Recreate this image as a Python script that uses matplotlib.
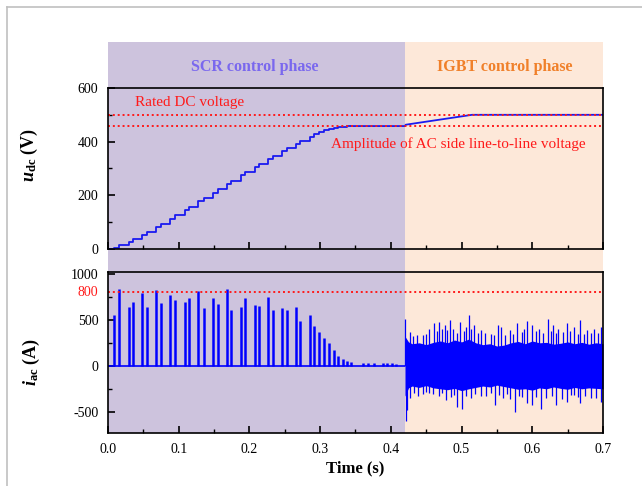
import matplotlib
matplotlib.use('Agg')
import matplotlib.pyplot as plt
import matplotlib.transforms as mtransforms
from matplotlib.patches import Rectangle
from matplotlib.lines import Line2D
from matplotlib.ticker import MultipleLocator

plt.rcParams['font.family'] = ['Liberation Serif', 'DejaVu Serif']
plt.rcParams['mathtext.fontset'] = 'custom'
plt.rcParams['mathtext.it'] = 'Liberation Serif:bold:italic'
plt.rcParams['mathtext.rm'] = 'Liberation Serif:bold'
plt.rcParams['mathtext.bf'] = 'Liberation Serif:bold'
plt.rcParams['axes.unicode_minus'] = False

# phases
t_switch = 0.42
t_end = 0.70
phase_names = ['SCR control phase', 'IGBT control phase']
phase_label_t = [0.208, 0.561]

# reference levels
rated_dc = 500
ac_amplitude = 460
current_limit = 800

# u_dc: staircase during SCR charging (time of each step, level after it)
step_t = [0.0, 0.0088, 0.0156, 0.0293, 0.0356, 0.0488, 0.0551, 0.0683, 0.0746,
          0.0878, 0.0951, 0.1083, 0.1146, 0.1278, 0.1351, 0.1488, 0.1551,
          0.1683, 0.1746, 0.1878, 0.1941, 0.2073, 0.2137, 0.2268, 0.2332,
          0.2463, 0.2527, 0.2659, 0.2722, 0.2854, 0.2917, 0.299, 0.3059,
          0.312, 0.319, 0.325, 0.332, 0.3376, 0.344]
step_v = [0, 5, 14, 26, 37, 52, 64, 82, 94,
          113, 125, 145, 157, 177, 189, 210, 222,
          242, 254, 274, 286, 305, 317, 336, 347,
          365, 376, 393, 403, 418, 427, 436, 442,
          447, 451, 454, 456, 457, 458]
# u_dc after charging: plateau, then IGBT ramp up to rated voltage
tail_t = [0.344, 0.42, 0.421, 0.515, 0.70]
tail_v = [458, 458, 463, 500, 500]

# i_ac: charging current pulses during SCR phase
pulse_t = [0.0088, 0.0156, 0.0293, 0.0356, 0.0488, 0.0551, 0.0683, 0.0746,
           0.0878, 0.0951, 0.1083, 0.1146, 0.1278, 0.1351, 0.1488, 0.1551,
           0.1683, 0.1746, 0.1878, 0.1941, 0.2073, 0.2137, 0.2268, 0.2332,
           0.2463, 0.2527, 0.2659, 0.2722, 0.2854, 0.2917, 0.299, 0.3059,
           0.312, 0.319, 0.325, 0.332, 0.3376, 0.344, 0.361, 0.368, 0.3756,
           0.389, 0.395, 0.401, 0.407]
pulse_peak = [555, 838, 638, 698, 789, 638, 826, 687,
              770, 713, 698, 736, 811, 630, 736, 668,
              838, 604, 638, 732, 660, 649, 751, 604,
              630, 604, 638, 491, 547, 434, 366, 298,
              253, 177, 109, 72, 57, 42, 26, 34, 34,
              26, 26, 26, 19]

# i_ac during IGBT phase: envelope of the dense ripple band
band_t = [0.42, 0.425, 0.43, 0.44, 0.45, 0.46, 0.47, 0.48, 0.49, 0.50, 0.51, 0.52,
          0.53, 0.54, 0.55, 0.56, 0.57, 0.58, 0.59, 0.60, 0.61, 0.62, 0.63, 0.64,
          0.65, 0.66, 0.67, 0.68, 0.69, 0.70]
band_hi = [320, 260, 240, 250, 230, 255, 270, 250, 280, 260, 290, 250,
           230, 240, 215, 225, 250, 265, 240, 270, 250, 255, 235, 245,
           260, 240, 255, 235, 250, 240]
band_lo = [-330, -240, -220, -235, -215, -240, -250, -260, -245, -270, -250, -235,
           -220, -230, -210, -225, -240, -255, -250, -265, -240, -250, -230, -245,
           -255, -235, -250, -240, -245, -250]
# i_ac: individual ripple spikes sticking out of the band
spike_up_t = [0.420, 0.427, 0.432, 0.437, 0.445, 0.450, 0.454, 0.461, 0.465, 0.468,
              0.472, 0.476, 0.480, 0.483, 0.488, 0.493, 0.498, 0.503, 0.507, 0.510,
              0.514, 0.518, 0.523, 0.527, 0.533, 0.541, 0.546, 0.551, 0.556, 0.562,
              0.568, 0.573, 0.578, 0.585, 0.589, 0.593, 0.600, 0.605, 0.610, 0.615,
              0.622, 0.626, 0.629, 0.633, 0.637, 0.643, 0.649, 0.654, 0.659, 0.664,
              0.668, 0.673, 0.678, 0.683, 0.688, 0.693, 0.697]
spike_up_v = [505, 366, 320, 330, 340, 350, 404, 460, 380, 479,
              400, 441, 390, 498, 400, 360, 479, 380, 420, 547,
              400, 441, 360, 385, 360, 350, 330, 441, 420, 340,
              385, 350, 460, 370, 400, 487, 441, 380, 404, 360,
              505, 380, 441, 360, 404, 370, 460, 380, 420, 350,
              498, 350, 385, 360, 404, 360, 420]
spike_dn_t = [0.421, 0.423, 0.427, 0.433, 0.439, 0.445, 0.450, 0.454, 0.460, 0.468,
              0.473, 0.478, 0.485, 0.489, 0.493, 0.500, 0.506, 0.513, 0.519, 0.527,
              0.535, 0.541, 0.547, 0.553, 0.559, 0.564, 0.568, 0.576, 0.581, 0.585,
              0.593, 0.600, 0.606, 0.612, 0.620, 0.628, 0.634, 0.642, 0.649, 0.655,
              0.659, 0.664, 0.668, 0.675, 0.683, 0.690, 0.697]
spike_dn_v = [-596, -483, -351, -300, -332, -310, -290, -294, -310, -332,
              -300, -370, -340, -320, -445, -464, -330, -351, -310, -332,
              -330, -300, -430, -320, -351, -310, -360, -502, -330, -340,
              -408, -430, -340, -464, -351, -330, -430, -360, -389, -320,
              -320, -340, -408, -330, -351, -350, -389]

# colours
scr_bg = '#cdc3dd'
igbt_bg = '#fde8d9'
line_blue = '#1a1af0'
red = '#ff1a1a'

fig = plt.figure(figsize=(6.42, 4.86), dpi=100)
ax1 = fig.add_axes([0.1682, 0.4877, 0.7710, 0.3313])
ax2 = fig.add_axes([0.1682, 0.1091, 0.7710, 0.3313], sharex=ax1)

# shaded phase backgrounds behind both panels
blend = mtransforms.blended_transform_factory(ax2.transData, fig.transFigure)
bg_bottom, bg_top = 0.1091, 0.9136
for (x0, x1), c in zip([(0, t_switch), (t_switch, t_end)], [scr_bg, igbt_bg]):
    fig.add_artist(Rectangle((x0, bg_bottom), x1 - x0, bg_top - bg_bottom,
                             transform=blend, facecolor=c, edgecolor='none', zorder=-5))
for name, tx, c in zip(phase_names, phase_label_t, ['#7a68ee', '#f0802a']):
    fig.text(tx, 0.862, name, transform=blend, ha='center', va='center',
             fontsize=11.5, fontweight='bold', color=c)

# frame lines of the original figure
fig.add_artist(Line2D([7 / 642, 7 / 642], [0, 1 - 7 / 486], color='#c0c0c0', lw=1.2))
fig.add_artist(Line2D([7 / 642, 1], [1 - 7 / 486, 1 - 7 / 486], color='#c0c0c0', lw=1.2))

# top panel: u_dc
ax1.plot(step_t, step_v, drawstyle='steps-post', color=line_blue, lw=1.3)
ax1.plot(tail_t, tail_v, color=line_blue, lw=1.3)
for lvl in [rated_dc, ac_amplitude]:
    ax1.axhline(lvl, color=red, lw=1.4, ls=(0, (1, 1.5)))
ax1.text(0.038, 545, 'Rated DC voltage', color=red, fontsize=11, va='center')
ax1.text(0.496, 392, 'Amplitude of AC side line-to-line voltage', color=red,
         fontsize=11, va='center', ha='center')
ax1.set_ylim(0, 600)
ax1.yaxis.set_major_locator(MultipleLocator(200))
ax1.yaxis.set_minor_locator(MultipleLocator(100))

# bottom panel: i_ac
ax2.hlines(0, 0, t_switch, color='#0000ff', lw=1.2)
ax2.vlines(pulse_t, 0, pulse_peak, color='#0000ff', lw=1.8)
ax2.fill_between(band_t, band_lo, band_hi, color='#0000ff', lw=0)
ax2.vlines(spike_up_t, 0, spike_up_v, color='#0000ff', lw=0.9)
ax2.vlines(spike_dn_t, 0, spike_dn_v, color='#0000ff', lw=0.9)
ax2.axhline(current_limit, color=red, lw=1.4, ls=(0, (1, 1.5)))
ax2.set_ylim(-730, 1020)
ax2.set_yticks([-500, 0, 500, 1000])
ax2.yaxis.set_minor_locator(MultipleLocator(250))
ax2.text(-0.02, current_limit, str(current_limit), color=red, fontsize=10,
         ha='right', va='center',
         transform=mtransforms.blended_transform_factory(ax2.transAxes, ax2.transData))

ax2.set_xlim(0, t_end)
ax2.xaxis.set_major_locator(MultipleLocator(0.1))
ax2.xaxis.set_minor_locator(MultipleLocator(0.05))

for ax in (ax1, ax2):
    ax.set_facecolor('none')
    for sp in ax.spines.values():
        sp.set_linewidth(1.2)
    ax.tick_params(which='both', direction='in', top=False, right=False,
                   labelsize=10, pad=7)
    ax.tick_params(which='major', length=5, width=1.2)
    ax.tick_params(which='minor', length=3, width=1.0)
ax1.tick_params(labelbottom=False)
ax2.set_xticklabels([f'{v:.1f}' for v in ax2.get_xticks()])

fig.text(29 / 642, 1 - 155 / 486, r'$u_{\mathrm{dc}}$ (V)', rotation=90,
         ha='center', va='center', fontsize=13, fontweight='bold')
fig.text(31 / 642, 1 - 362 / 486, r'$i_{\mathrm{ac}}$ (A)', rotation=90,
         ha='center', va='center', fontsize=13, fontweight='bold')
fig.text(0.553, 1 - 468 / 486, 'Time (s)', ha='center', va='center',
         fontsize=12, fontweight='bold')

fig.savefig('out.png', dpi=100)
